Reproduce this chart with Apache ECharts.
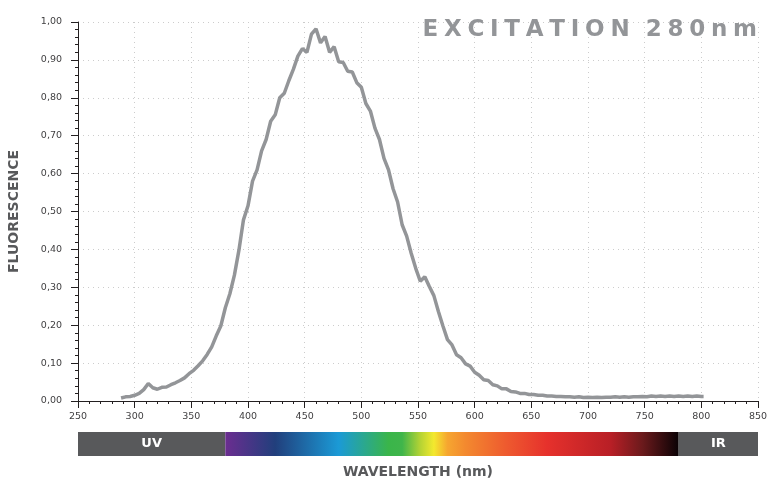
<!DOCTYPE html>
<html>
<head>
<meta charset="utf-8">
<script src="https://cdn.jsdelivr.net/npm/echarts@6/dist/echarts.min.js"></script>
<style>
  html, body { margin: 0; padding: 0; background: #fff; }
  #main { width: 774px; height: 480px; }
</style>
</head>
<body>
<div id="main"></div>
<script>
// wavelength (nm) sampled every 4 nm
var wavelengths = [
  288, 292, 296, 300, 304, 308, 312, 316, 320, 324, 328, 332, 336, 340, 344, 348, 352, 356, 360, 364,
  368, 372, 376, 380, 384, 388, 392, 396, 400, 404, 408, 412, 416, 420, 424, 428, 432, 436, 440, 444,
  448, 452, 456, 460, 464, 468, 472, 476, 480, 484, 488, 492, 496, 500, 504, 508, 512, 516, 520, 524,
  528, 532, 536, 540, 544, 548, 552, 556, 560, 564, 568, 572, 576, 580, 584, 588, 592, 596, 600, 604,
  608, 612, 616, 620, 624, 628, 632, 636, 640, 644, 648, 652, 656, 660, 664, 668, 672, 676, 680, 684,
  688, 692, 696, 700, 704, 708, 712, 716, 720, 724, 728, 732, 736, 740, 744, 748, 752, 756, 760, 764,
  768, 772, 776, 780, 784, 788, 792, 796, 800, 802
];
// fluorescence
var fluorescence = [
  0.008, 0.011, 0.012, 0.015, 0.020, 0.030, 0.046, 0.035, 0.031, 0.036, 0.037, 0.043, 0.048, 0.054, 0.061, 0.072, 0.081, 0.093, 0.106, 0.123,
  0.143, 0.172, 0.198, 0.246, 0.283, 0.332, 0.398, 0.478, 0.515, 0.580, 0.610, 0.660, 0.690, 0.738, 0.755, 0.800, 0.812, 0.845, 0.875, 0.910,
  0.930, 0.920, 0.968, 0.982, 0.945, 0.962, 0.920, 0.935, 0.895, 0.893, 0.870, 0.868, 0.840, 0.828, 0.785, 0.765, 0.720, 0.690, 0.640, 0.610,
  0.560, 0.525, 0.465, 0.435, 0.390, 0.350, 0.316, 0.328, 0.302, 0.278, 0.236, 0.198, 0.162, 0.148, 0.122, 0.114, 0.098, 0.092, 0.076, 0.068,
  0.056, 0.054, 0.043, 0.040, 0.032, 0.032, 0.025, 0.024, 0.020, 0.020, 0.017, 0.017, 0.015, 0.015, 0.013, 0.013, 0.012, 0.012, 0.011, 0.011,
  0.010, 0.011, 0.009, 0.010, 0.009, 0.010, 0.009, 0.010, 0.010, 0.011, 0.010, 0.011, 0.010, 0.011, 0.011, 0.012, 0.011, 0.013, 0.012, 0.013,
  0.012, 0.013, 0.012, 0.013, 0.012, 0.013, 0.012, 0.013, 0.012, 0.012
];

var xTicks = [250, 850, 50];
var yTicks = [0, 1, 0.1];

// spectrum strip under the axis
var bandNames = ['UV', '', 'IR'];
var bandFrom = [250, 380, 780];
var bandTo = [380, 780, 850];
var spectrumStops = [0, 0.11, 0.25, 0.36, 0.39, 0.43, 0.46, 0.49, 0.53, 0.62, 0.71, 0.85, 0.92, 1];
var spectrumColors = ['#6b2d90', '#213f7c', '#1b9ad6', '#3ab54a', '#3fb54b', '#b5d334', '#f3e92e',
  '#f6a630', '#f3892f', '#ee5a2f', '#e6312c', '#b81f26', '#6b1a1c', '#0a0205'];

var lineData = wavelengths.map(function (w, i) { return [w, fluorescence[i]]; });
var bandData = bandNames.map(function (n, i) { return [bandFrom[i], bandTo[i], n]; });

var chart = echarts.init(document.getElementById('main'));

var labelFont = 'DejaVu Sans';
var option = {
  animation: false,
  title: {
    text: '{a|E\u2005X\u2005C\u2005I\u2005T\u2005A\u2005T\u2005I\u2005O\u2005N\u00a0\u00a0}{b|2\u20058\u20050\u2005n\u2005m}',
    right: 12,
    top: 14,
    textStyle: {
      rich: {
        a: { fontFamily: labelFont, fontSize: 23, fontWeight: 'bold', color: '#939598' },
        b: { fontFamily: labelFont, fontSize: 23, color: '#939598' }
      }
    }
  },
  grid: [
    { left: 78, right: 16, top: 22, bottom: 79, outerBoundsMode: 'none' },
    { left: 78, right: 16, top: 432, height: 24, outerBoundsMode: 'none' }
  ],
  xAxis: [
    {
      type: 'value',
      gridIndex: 0,
      min: xTicks[0],
      max: xTicks[1],
      interval: xTicks[2],
      name: 'WAVELENGTH (nm)',
      nameLocation: 'middle',
      nameGap: 64,
      nameTextStyle: { fontFamily: labelFont, fontSize: 14, fontWeight: 'bold', color: '#58595b' },
      axisLine: { lineStyle: { color: '#231f20', width: 1 } },
      axisTick: { length: 7, lineStyle: { color: '#231f20' } },
      minorTick: { show: true, splitNumber: 5, length: 3, lineStyle: { color: '#231f20' } },
      axisLabel: { fontFamily: labelFont, fontSize: 9.5, color: '#414042', margin: 11 },
      splitLine: { show: true, lineStyle: { color: '#cccccc', type: [1, 4], width: 1 } }
    },
    {
      type: 'value',
      gridIndex: 1,
      min: xTicks[0],
      max: xTicks[1],
      show: false
    }
  ],
  yAxis: [
    {
      type: 'value',
      gridIndex: 0,
      min: yTicks[0],
      max: yTicks[1],
      interval: yTicks[2],
      name: 'FLUORESCENCE',
      nameLocation: 'middle',
      nameGap: 57,
      nameTextStyle: { fontFamily: labelFont, fontSize: 14, fontWeight: 'bold', color: '#58595b' },
      axisLine: { show: true, lineStyle: { color: '#231f20', width: 1 } },
      axisTick: { show: true, length: 7, lineStyle: { color: '#231f20' } },
      minorTick: { show: true, splitNumber: 5, length: 3, lineStyle: { color: '#231f20' } },
      axisLabel: {
        fontFamily: labelFont, fontSize: 9.5, color: '#414042', margin: 16,
        formatter: function (v) { return v.toFixed(2).replace('.', ','); }
      },
      splitLine: { show: true, lineStyle: { color: '#cccccc', type: [1, 4], width: 1 } }
    },
    { type: 'value', gridIndex: 1, min: 0, max: 1, show: false }
  ],
  series: [
    {
      type: 'line',
      data: lineData,
      xAxisIndex: 0,
      yAxisIndex: 0,
      showSymbol: false,
      symbol: 'none',
      lineStyle: { color: '#939598', width: 3.5 },
      z: 5
    },
    {
      type: 'custom',
      xAxisIndex: 1,
      yAxisIndex: 1,
      data: bandData,
      renderItem: function (params, api) {
        var p0 = api.coord([api.value(0), 1]);
        var p1 = api.coord([api.value(1), 0]);
        var name = bandNames[params.dataIndex];
        var fill = '#58595b';
        if (!name) {
          fill = new echarts.graphic.LinearGradient(0, 0, 1, 0, spectrumStops.map(function (s, i) {
            return { offset: s, color: spectrumColors[i] };
          }));
        }
        return {
          type: 'rect',
          shape: { x: p0[0], y: p0[1], width: p1[0] - p0[0], height: p1[1] - p0[1] },
          style: { fill: fill },
          textContent: name ? {
            style: { text: name, fill: '#fff', fontFamily: labelFont, fontSize: 13, fontWeight: 'bold' }
          } : undefined,
          textConfig: name ? { position: 'inside' } : undefined
        };
      }
    }
  ]
};
chart.setOption(option);
</script>
</body>
</html>
